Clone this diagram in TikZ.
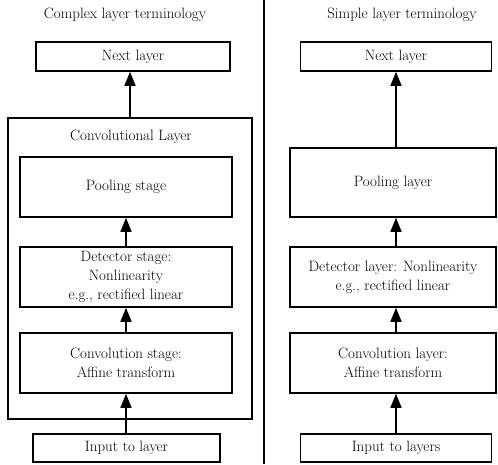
\documentclass[tikz,border=0pt]{standalone}
\usepackage{fontspec}
\usetikzlibrary{arrows.meta}
\begin{document}
\begin{tikzpicture}[x=1pt,y=-1pt,
    every node/.style={font=\fontsize{15}{19}\selectfont},
    stagebox/.style={draw, line width=1.6pt, align=center, inner sep=0pt},
    arr/.style={line width=1.6pt, -{Triangle[length=14pt,width=11pt]}}]
        \useasboundingbox (0,0) rectangle (498,464);
        % left: complex terminology
        \node (titleL) at (125,15) {Complex layer terminology};
        \node[stagebox, minimum width=194pt, minimum height=29pt] (nextL) at (133,56.5) {Next layer};
        \node[stagebox, minimum width=244pt, minimum height=301pt] (convlayer) at (130,268.5) {};
        \node (convlabel) at (131,137) {Convolutional Layer};
        \node[stagebox, minimum width=212pt, minimum height=60pt] (poolS) at (126,187) {Pooling stage};
        \node[stagebox, minimum width=212pt, minimum height=60pt] (detS) at (126,277) {Detector stage:\\Nonlinearity\\e.g., rectified linear};
        \node[stagebox, minimum width=212pt, minimum height=60pt] (convS) at (126,363) {Convolution stage:\\Affine transform};
        \node[stagebox, minimum width=187pt, minimum height=28pt] (inL) at (126.5,448) {Input to layer};
        \draw[arr] (convlayer.north) -- (convlayer.north |- nextL.south);
        \draw[arr] (detS.north) -- (poolS.south);
        \draw[arr] (convS.north) -- (detS.south);
        \draw[arr] (inL.north -| convS) -- (convS.south);
        % divider
        \draw[line width=1.2pt] (264,0) -- (264,464);
        % right: simple terminology
        \node (titleR) at (402,15) {Simple layer terminology};
        \node[stagebox, minimum width=191pt, minimum height=29pt] (nextR) at (396,56.5) {Next layer};
        \node[stagebox, minimum width=206pt, minimum height=69pt] (poolR) at (393,182.5) {Pooling layer};
        \node[stagebox, minimum width=206pt, minimum height=60pt] (detR) at (393,277) {Detector layer: Nonlinearity\\e.g., rectified linear};
        \node[stagebox, minimum width=206pt, minimum height=60pt] (convR) at (393,363) {Convolution layer:\\Affine transform};
        \node[stagebox, minimum width=191pt, minimum height=28pt] (inR) at (396,448) {Input to layers};
        \draw[arr] (poolR.north -| nextR) -- (nextR.south);
        \draw[arr] (detR.north -| nextR) -- (poolR.south -| nextR);
        \draw[arr] (convR.north -| nextR) -- (detR.south -| nextR);
        \draw[arr] (inR.north) -- (convR.south -| inR);
\end{tikzpicture}
\end{document}
